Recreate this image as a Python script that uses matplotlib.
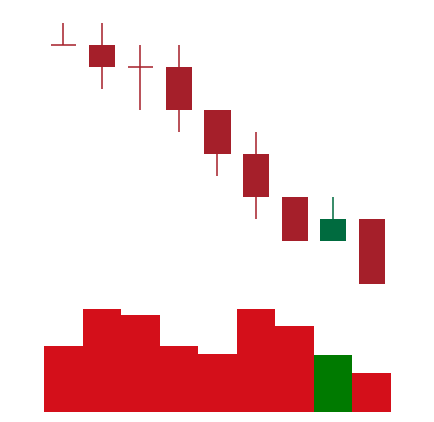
import matplotlib.pyplot as plt
import numpy as np

# price candles (open, high, low, close) and volume
opens = [110, 110, 100, 100, 80, 60, 40, 20, 30]
highs = [120, 120, 110, 110, 80, 70, 40, 40, 30]
lows = [110, 90, 80, 70, 50, 30, 20, 20, 0]
closes = [110, 100, 100, 80, 60, 40, 20, 30, 0]
volumes = [657, 1027, 967, 657, 577, 1027, 860, 567, 387]

up_col = '#006b3f'
down_col = '#a51f2a'
vol_up = '#007a00'
vol_down = '#d40f1a'

W, H = 434, 422
fig = plt.figure(figsize=(W / 100, H / 100), dpi=100, facecolor='white')

x = np.arange(len(opens))
left = 44 / W
width = 347 / W

# candle panel
ax = fig.add_axes([left, (H - 295) / H, width, 285 / H])
ax.set_xlim(-0.5, len(opens) - 0.5)
ax.set_ylim(-4.92, 126.1)
ax.axis('off')

for i in x:
    o, h, l, c = opens[i], highs[i], lows[i], closes[i]
    col = up_col if c > o else down_col
    if h > l:
        ax.vlines(i, l, h, color=col, linewidth=1.1, zorder=1)
    if c == o:
        ax.hlines(o, i - 0.32, i + 0.32, color=col, linewidth=1.1, zorder=2)
    else:
        ax.bar(i, abs(c - o), bottom=min(o, c), width=0.68, color=col,
               linewidth=0, zorder=2)

# volume panel
axv = fig.add_axes([left, (H - 411.7) / H, width, 120 / H])
axv.set_xlim(-0.5, len(opens) - 0.5)
axv.set_ylim(0, 1200)
axv.axis('off')
vcols = [vol_up if c > o else vol_down for o, c in zip(opens, closes)]
axv.bar(x, volumes, width=1.0, color=vcols, linewidth=0)

fig.savefig('out.png', dpi=100, facecolor='white')
